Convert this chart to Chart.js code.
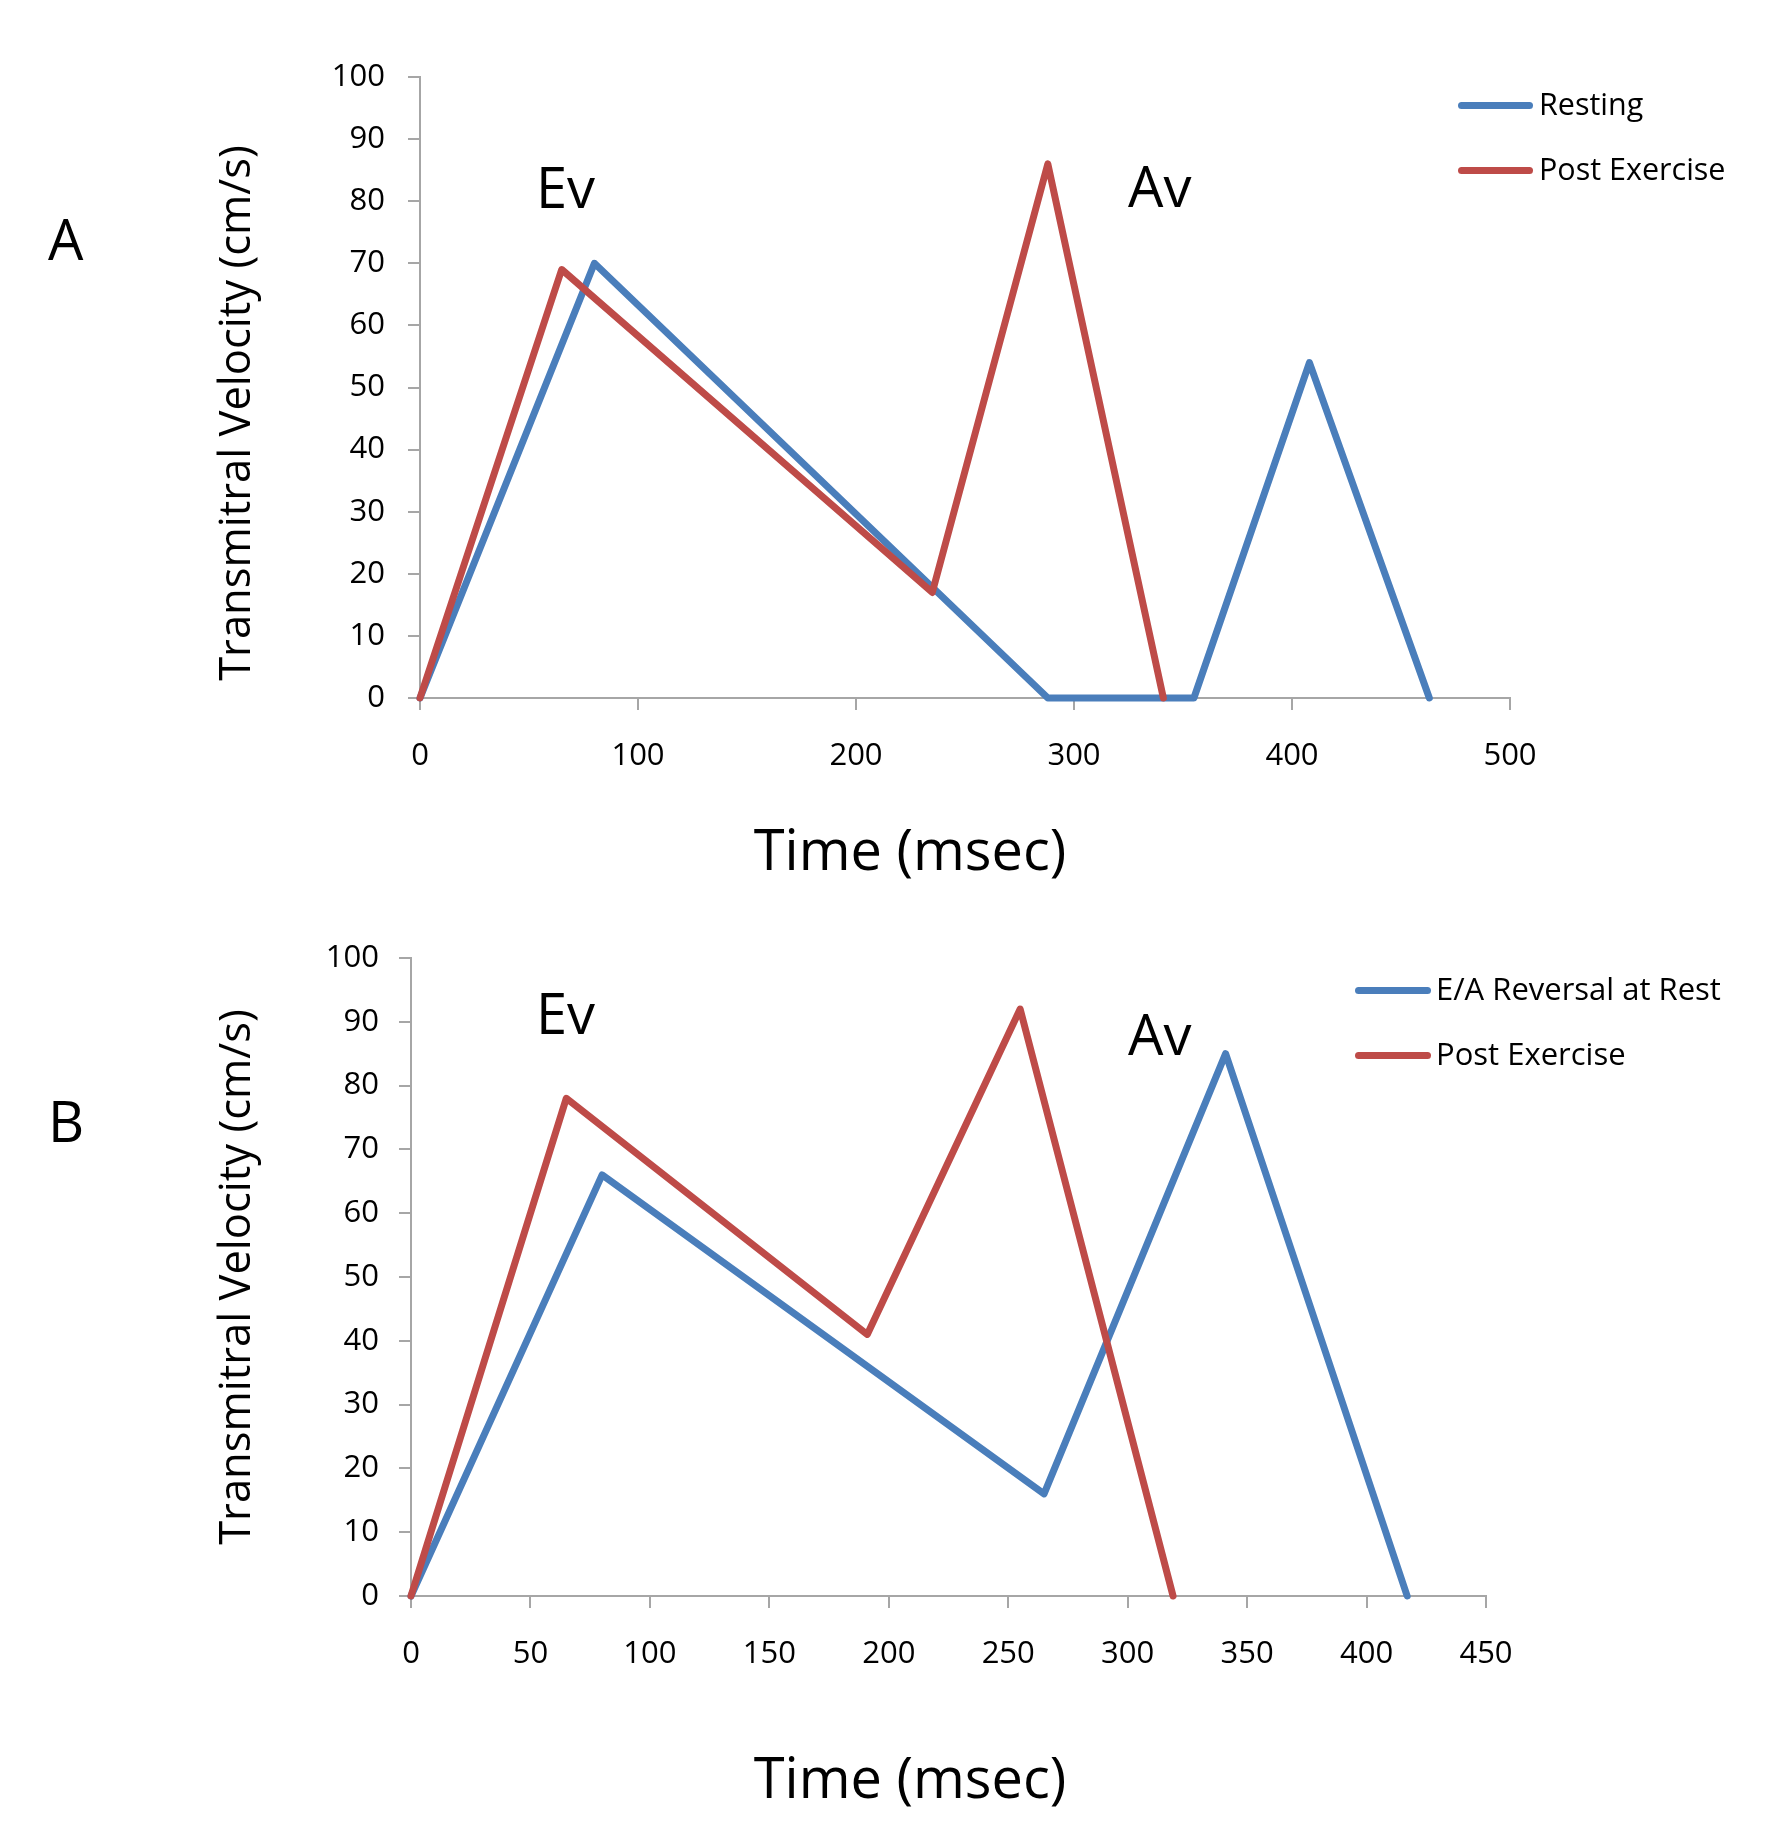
<!DOCTYPE html>
<html><head><meta charset="utf-8">
<script src="https://cdn.jsdelivr.net/npm/chart.js@4.4.1/dist/chart.umd.min.js"></script>
<style>
body{margin:0;background:#fff;width:1772px;height:1823px;position:relative;overflow:hidden;font-family:'Open Sans',sans-serif;color:#000}
.t{position:absolute;white-space:nowrap;line-height:1}
.ytitle{position:absolute;white-space:nowrap;text-align:center;transform:rotate(-90deg);transform-origin:50% 50%}
.lg{position:absolute;height:7px;border-radius:4px}
canvas{position:absolute;left:0}
</style></head><body>
<canvas id="ca" width="1772" height="900" style="top:0"></canvas>
<canvas id="cb" width="1772" height="923" style="top:900px"></canvas>

<div class="t" style="left:48px;top:210px;font-size:56px">A</div>
<div class="t" style="left:48px;top:1092px;font-size:56px">B</div>
<div class="t" style="left:536px;top:158px;font-size:56px">Ev</div>
<div class="t" style="left:1128px;top:157px;font-size:56px">Av</div>
<div class="t" style="left:536px;top:984px;font-size:56px">Ev</div>
<div class="t" style="left:1128px;top:1005px;font-size:56px">Av</div>

<div class="t" style="left:610px;width:600px;text-align:center;top:820px;font-size:56px">Time (msec)</div>
<div class="t" style="left:610px;width:600px;text-align:center;top:1748px;font-size:56px">Time (msec)</div>

<div class="ytitle" style="left:-66px;width:600px;top:391px;height:44px;line-height:44px;font-size:43.5px">Transmitral Velocity (cm/s)</div>
<div class="ytitle" style="left:-66px;width:600px;top:1255px;height:44px;line-height:44px;font-size:43.5px">Transmitral Velocity (cm/s)</div>

<div class="lg" style="left:1458px;width:75px;top:102px;background:#4A7EBB"></div>
<div class="t" style="left:1539px;top:88px;font-size:30.5px">Resting</div>
<div class="lg" style="left:1458px;width:75px;top:167px;background:#BE4B48"></div>
<div class="t" style="left:1539px;top:153px;font-size:30.5px">Post Exercise</div>

<div class="lg" style="left:1355px;width:76px;top:987px;background:#4A7EBB"></div>
<div class="t" style="left:1436px;top:973px;font-size:31px">E/A Reversal at Rest</div>
<div class="lg" style="left:1355px;width:76px;top:1052px;background:#BE4B48"></div>
<div class="t" style="left:1436px;top:1038px;font-size:31px">Post Exercise</div>

<script>
// Panel A
const timeA_rest = [0, 80, 288, 355, 408, 463];
const velA_rest  = [0, 70, 0, 0, 54, 0];
const timeA_post = [0, 65, 235, 288, 341];
const velA_post  = [0, 69, 17, 86, 0];
const xTicksA = [0, 100, 200, 300, 400, 500];
// Panel B
const timeB_rest = [0, 80, 265, 341, 417];
const velB_rest  = [0, 66, 16, 85, 0];
const timeB_post = [0, 65, 191, 255, 319];
const velB_post  = [0, 78, 41, 92, 0];
const xTicksB = [0, 50, 100, 150, 200, 250, 300, 350, 400, 450];
const yTicks = [0, 10, 20, 30, 40, 50, 60, 70, 80, 90, 100];

const BLUE = '#4A7EBB', RED = '#BE4B48', AX = '#A6A6A6';

function pts(xs, ys){ return xs.map((x,i)=>({x:x, y:ys[i]})); }
function ds(label, xs, ys, color, order){
  return {label, data: pts(xs, ys), borderColor: color, backgroundColor: color,
    borderWidth: 7, pointRadius: 0, tension: 0, showLine: true, fill: false,
    borderJoinStyle: 'round', borderCapStyle: 'round', clip: false, order};
}
function makeChart(id, xTicks, datasets, pad, yWidth, xHeight, yPad, xPad){
  const xMax = xTicks[xTicks.length-1];
  new Chart(document.getElementById(id), {
    type: 'scatter',
    data: {datasets},
    options: {
      responsive: false, animation: false,
      layout: {padding: pad},
      plugins: {legend: {display: false}, tooltip: {enabled: false}},
      scales: {
        x: {type: 'linear', min: xTicks[0], max: xMax,
          afterBuildTicks: s => { s.ticks = xTicks.map(v=>({value:v})); },
          ticks: {autoSkip: false, maxRotation: 0, color: '#000', padding: xPad,
            font: {family: 'Open Sans', size: 31}},
          grid: {display: true, drawOnChartArea: false, drawTicks: true, tickLength: 12, color: AX, lineWidth: 2},
          border: {display: true, color: AX, width: 2},
          afterFit: s => { s.height = xHeight; }},
        y: {type: 'linear', min: 0, max: 100,
          afterBuildTicks: s => { s.ticks = yTicks.map(v=>({value:v})); },
          ticks: {autoSkip: false, color: '#000', padding: yPad,
            font: {family: 'Open Sans', size: 31}},
          grid: {display: true, drawOnChartArea: false, drawTicks: true, tickLength: 12, color: AX, lineWidth: 2},
          border: {display: true, color: AX, width: 2},
          afterFit: s => { s.width = yWidth; }}
      }
    }
  });
}
makeChart('ca', xTicksA, [
  ds('Resting', timeA_rest, velA_rest, BLUE, 1),
  ds('Post Exercise', timeA_post, velA_post, RED, 0)
], {left: 0, top: 77, right: 262, bottom: 0}, 420, 202, 23, 28);
makeChart('cb', xTicksB, [
  ds('E/A Reversal at Rest', timeB_rest, velB_rest, BLUE, 1),
  ds('Post Exercise', timeB_post, velB_post, RED, 0)
], {left: 0, top: 58, right: 286, bottom: 0}, 411, 227, 20, 28);
</script>
</body></html>
